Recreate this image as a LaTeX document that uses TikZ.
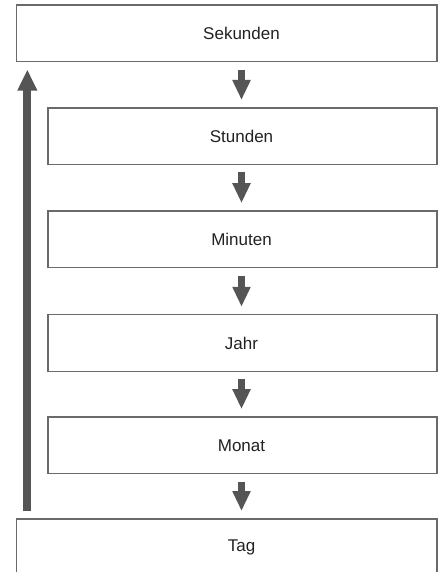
\documentclass[tikz,border=0pt]{standalone}
\usepackage{fontspec}
\setmainfont{Liberation Sans}
\usetikzlibrary{arrows.meta}
\definecolor{boxline}{HTML}{6A6A6A}
\definecolor{arrowfill}{HTML}{555555}
\definecolor{labtext}{HTML}{222222}
\begin{document}
\begin{tikzpicture}[x=1pt,y=-1pt,
  box/.style={draw=boxline, line width=1.3pt, fill=white, inner sep=0pt, minimum height=56.5pt},
  lab/.style={font=\fontsize{17}{20}\selectfont, text=labtext, inner sep=0pt},
  flow/.style={draw=arrowfill, line width=7pt, -{Triangle[width=17pt,length=20pt]}},
  upflow/.style={draw=arrowfill, line width=8pt, -{Triangle[width=18.5pt,length=21pt]}}]
\clip (0,0) rectangle (441,572);
\fill[white] (0,0) rectangle (441,572);
% boxes
\node[box, minimum width=420.3pt] (sek) at (226.85,33.35) {};
\node[box, minimum width=389pt] (std) at (242.5,136.2) {};
\node[box, minimum width=389pt] (min) at (242.5,239.35) {};
\node[box, minimum width=389pt] (jahr) at (242.5,343) {};
\node[box, minimum width=389pt] (mon) at (242.5,445.35) {};
\node[box, minimum width=420.3pt] (tag) at (226.85,547.25) {};
% labels
\node[lab] (tsek) at (241.5,33.35) {Sekunden};
\node[lab] (tstd) at (241.5,136.2) {Stunden};
\node[lab] (tmin) at (241.5,239.35) {Minuten};
\node[lab] (tjahr) at (241.5,343) {Jahr};
\node[lab] (tmon) at (241.5,445.35) {Monat};
\node[lab] (ttag) at (241.5,547.25) {Tag};
% down arrows
\draw[flow, shorten <=7.3pt, shorten >=7.3pt] (tsek |- sek.south) -- (tsek |- std.north);
\draw[flow, shorten <=7.3pt, shorten >=7.3pt] (tsek |- std.south) -- (tsek |- min.north);
\draw[flow, shorten <=7.3pt, shorten >=7.3pt] (tsek |- min.south) -- (tsek |- jahr.north);
\draw[flow, shorten <=7.3pt, shorten >=7.3pt] (tsek |- jahr.south) -- (tsek |- mon.north);
\draw[flow, shorten <=7.3pt, shorten >=7.3pt] (tsek |- mon.south) -- (tsek |- tag.north);
% up arrow
\draw[upflow, shorten <=7pt, shorten >=7.3pt] ([xshift=11.3pt]tag.north west) -- ([xshift=11.3pt]sek.south west);
\end{tikzpicture}
\end{document}
